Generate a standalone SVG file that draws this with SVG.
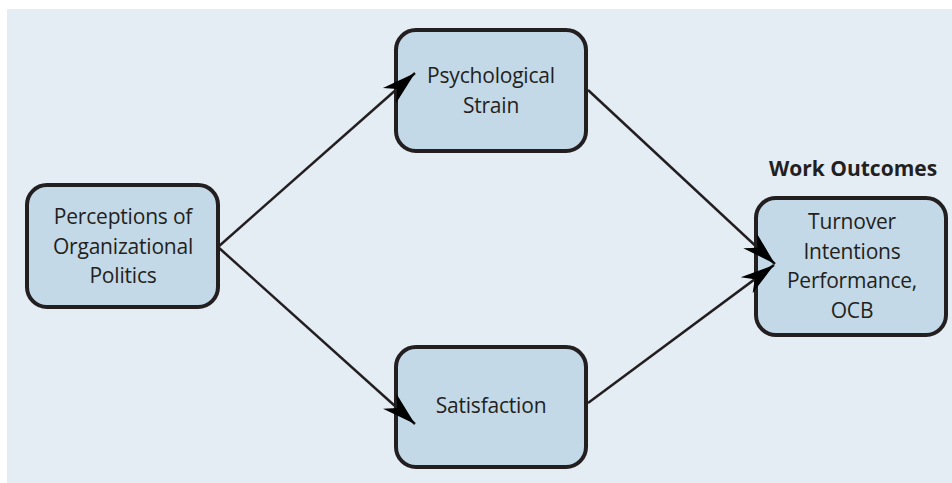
<svg xmlns="http://www.w3.org/2000/svg" width="952" height="483" viewBox="0 0 952 483">
  <style>
    .panel { fill: #e4ecf4; }
    .box { fill: #c3d9e7; stroke: #231f20; stroke-width: 4; }
    .label { font-family: "Open Sans", "Noto Sans", sans-serif; font-size: 21px; letter-spacing: -0.2px; fill: #231f20; text-anchor: middle; }
    .heading { font-family: "Open Sans", "Noto Sans", sans-serif; font-size: 21px; font-weight: bold; fill: #231f20; text-anchor: middle; }
    .edge { stroke: #231f20; stroke-width: 2.5; fill: none; marker-end: url(#head); }
  </style>
  <defs>
    <marker id="head" markerUnits="userSpaceOnUse" markerWidth="40" markerHeight="24" refX="36" refY="12" orient="auto">
      <path d="M36,12 L2,2 L12,12 L2,22 Z" fill="#000"/>
    </marker>
  </defs>

  <rect class="panel" x="7" y="9" width="945" height="474"/>

  <g id="politics">
    <rect class="box" x="27" y="185" width="191" height="122" rx="20"/>
    <text class="label" x="123" y="224">Perceptions of</text>
    <text class="label" x="123" y="253.5">Organizational</text>
    <text class="label" x="123" y="283">Politics</text>
  </g>

  <g id="strain">
    <rect class="box" x="396" y="30" width="190" height="121" rx="20"/>
    <text class="label" x="491" y="83">Psychological</text>
    <text class="label" x="491" y="113">Strain</text>
  </g>

  <g id="satisfaction">
    <rect class="box" x="396" y="347" width="190" height="120" rx="20"/>
    <text class="label" x="491" y="413">Satisfaction</text>
  </g>

  <g id="outcomes">
    <text class="heading" x="853" y="176">Work Outcomes</text>
    <rect class="box" x="756" y="198" width="190" height="137" rx="20"/>
    <text class="label" x="852" y="229">Turnover</text>
    <text class="label" x="852" y="259">Intentions</text>
    <text class="label" x="852" y="288">Performance,</text>
    <text class="label" x="852" y="318">OCB</text>
  </g>

  <!-- arrows are drawn last so their heads sit over the box borders -->
  <g id="connectors">
    <line class="edge" x1="218" y1="247" x2="415" y2="73"/>
    <line class="edge" x1="218" y1="247" x2="415" y2="424"/>
    <line class="edge" x1="588" y1="90" x2="775" y2="264"/>
    <line class="edge" x1="588" y1="403" x2="774" y2="265"/>
  </g>
</svg>
